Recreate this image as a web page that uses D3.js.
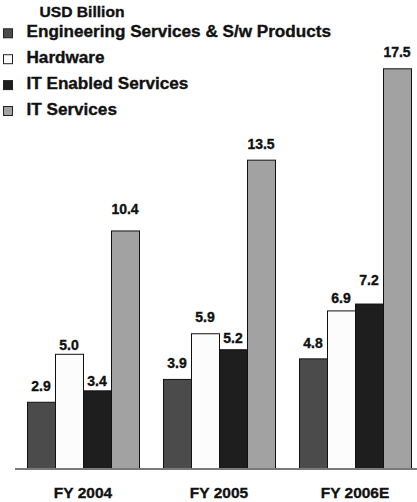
<!DOCTYPE html>
<html>
<head>
<meta charset="utf-8">
<script src="https://cdn.jsdelivr.net/npm/d3@7"></script>
<style>
  html, body { margin: 0; padding: 0; background: #fff; }
  svg { display: block; font-family: "Liberation Sans", Arial, sans-serif; font-weight: bold; }
  text { stroke: #111; stroke-width: 0.35px; }
</style>
</head>
<body>
<svg id="chart" width="417" height="502"></svg>
<script>
// Fiscal years on the category axis
const years = ["FY 2004", "FY 2005", "FY 2006E"];
// Segments, in legend / bar order
const series = ["Engineering Services & S/w Products", "Hardware", "IT Enabled Services", "IT Services"];
// Revenue per segment (USD billion), one value per year
const engineering = [2.9, 3.9, 4.8];
const hardware = [5.0, 5.9, 6.9];
const itEnabled = [3.4, 5.2, 7.2];
const itServices = [10.4, 13.5, 17.5];
const unitLabel = "USD Billion";

const values = [engineering, hardware, itEnabled, itServices];
const fills = ["#4b4b4b", "#fcfcfc", "#1e1e1e", "#a2a2a2"];
// gap (px) between each value label and the top of its bar, [series][year]
const labelGap = [[11, 11, 10], [3.5, 11.5, 7], [4, 6, 19], [16, 11, 11]];

const svg = d3.select("#chart");

const x0 = d3.scaleBand().domain(years).range([15, 423])
  .paddingInner(24 / 136).paddingOuter(12 / 136);
const x1 = d3.scaleBand().domain(series).range([0, x0.bandwidth()]).padding(0);
const y = d3.scaleLinear().domain([0, 17.5]).range([468, 68.3]);

// bars
const groups = svg.append("g").selectAll("g")
  .data(years).join("g")
  .attr("transform", d => `translate(${x0(d)},0)`);

groups.selectAll("rect")
  .data((yr, yi) => series.map((s, si) => ({ s, si, yi, v: values[si][yi] })))
  .join("rect")
  .attr("x", d => x1(d.s) + 0.5)
  .attr("y", d => y(d.v) + 0.5)
  .attr("width", x1.bandwidth())
  .attr("height", d => y(0) - y(d.v))
  .attr("fill", d => fills[d.si])
  .attr("stroke", "#111")
  .attr("stroke-width", 1);

groups.selectAll("text")
  .data((yr, yi) => series.map((s, si) => ({ s, si, yi, v: values[si][yi] })))
  .join("text")
  .attr("x", d => x1(d.s) + x1.bandwidth() / 2)
  .attr("y", d => y(d.v) - labelGap[d.si][d.yi])
  .attr("text-anchor", "middle")
  .attr("font-size", 14)
  .attr("fill", "#111")
  .text(d => d.v.toFixed(1));

// baseline axis with category labels
const axis = d3.axisBottom(x0).tickSize(0).tickPadding(18);
const ax = svg.append("g").attr("transform", `translate(0,${y(0) + 1})`).call(axis);
ax.select(".domain").attr("d", "M15,0H417").attr("stroke", "#7a7a7a").attr("stroke-width", 2);
ax.selectAll("text")
  .attr("font-size", 15.5)
  .attr("font-family", "'Liberation Sans', Arial, sans-serif")
  .attr("font-weight", "bold")
  .attr("fill", "#111");

// legend
svg.append("text")
  .attr("x", 39.5).attr("y", 17)
  .attr("font-size", 15)
  .attr("fill", "#111")
  .attr("textLength", 85).attr("lengthAdjust", "spacingAndGlyphs")
  .text(unitLabel);

const legend = svg.append("g").selectAll("g")
  .data(series).join("g")
  .attr("transform", (d, i) => `translate(0,${37.3 + i * 25.9})`);

legend.append("rect")
  .attr("x", 3.5).attr("y", -8.5)
  .attr("width", 9).attr("height", 9)
  .attr("fill", (d, i) => fills[i])
  .attr("stroke", "#222").attr("stroke-width", 1);

legend.append("text")
  .attr("x", 26.5).attr("y", 0)
  .attr("font-size", 16)
  .attr("fill", "#111")
  .text(d => d)
  .each(function () {
    // slightly wide lettering
    const w = this.getComputedTextLength();
    d3.select(this).attr("textLength", w * 1.07).attr("lengthAdjust", "spacingAndGlyphs");
  });
</script>
</body>
</html>
